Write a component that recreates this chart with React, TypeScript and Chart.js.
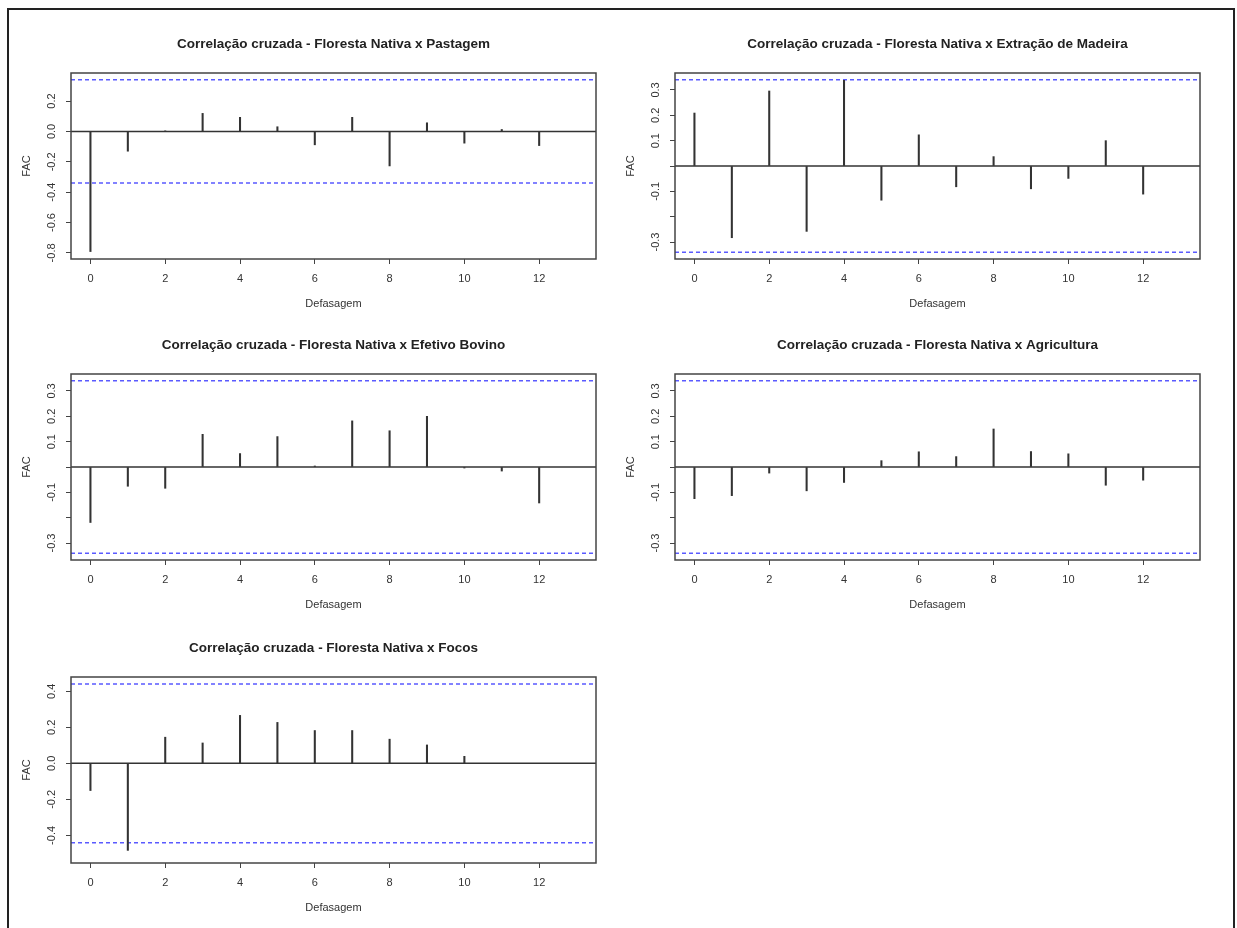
import React, { useEffect, useRef } from 'react';
import { Chart, registerables } from 'chart.js';

Chart.register(...registerables);

// ---------- data ----------
const lags = [0, 1, 2, 3, 4, 5, 6, 7, 8, 9, 10, 11, 12];
const lagsFocos = [0, 1, 2, 3, 4, 5, 6, 7, 8, 9, 10];

const pastagem = [-0.791, -0.13, 0.004, 0.119, 0.093, 0.031, -0.088, 0.093, -0.227, 0.057, -0.077, 0.013, -0.093];
const madeira = [0.209, -0.283, 0.296, -0.258, 0.338, -0.135, 0.123, -0.082, 0.037, -0.09, -0.049, 0.1, -0.111];
const bovino = [-0.219, -0.076, -0.084, 0.129, 0.053, 0.12, 0.004, 0.182, 0.143, 0.2, -0.004, -0.016, -0.142];
const agricultura = [-0.125, -0.113, -0.024, -0.094, -0.061, 0.025, 0.06, 0.041, 0.15, 0.061, 0.052, -0.072, -0.052];
const focos = [-0.151, -0.483, 0.145, 0.113, 0.266, 0.227, 0.182, 0.182, 0.134, 0.102, 0.039];

const titles = [
  'Correlação cruzada - Floresta Nativa x Pastagem',
  'Correlação cruzada - Floresta Nativa x Extração de Madeira',
  'Correlação cruzada - Floresta Nativa x Efetivo Bovino',
  'Correlação cruzada - Floresta Nativa x Agricultura',
  'Correlação cruzada - Floresta Nativa x Focos',
];

const xTicks = [0, 2, 4, 6, 8, 10, 12];
const xTickLabels = ['0', '2', '4', '6', '8', '10', '12'];
const xLimits = [-0.52, 13.52];

const yTicksA = [-0.8, -0.6, -0.4, -0.2, 0, 0.2];
const yTickLabelsA = ['-0.8', '-0.6', '-0.4', '-0.2', '0.0', '0.2'];
const yTicksB = [-0.3, -0.2, -0.1, 0, 0.1, 0.2, 0.3];
const yTickLabelsB = ['-0.3', '', '-0.1', '', '0.1', '0.2', '0.3'];
const yTicksC = [-0.4, -0.2, 0, 0.2, 0.4];
const yTickLabelsC = ['-0.4', '-0.2', '0.0', '0.2', '0.4'];

const yLimits1 = [-0.84, 0.385];
const yLimitsMid = [-0.367, 0.367];
const yLimits5 = [-0.553, 0.479];

const ciMain = 0.34;
const ciFocos = 0.44;

const xLabel = 'Defasagem';
const yLabel = 'FAC';

// ---------- layout ----------
const Y_W = 62;
const TITLE_H = 60;
const X_H = 56;
const PAD_R = 10;
const BOX_W = 525;
const BOX_H = 186;
const CW = Y_W + BOX_W + PAD_R;
const CH = TITLE_H + BOX_H + X_H;

const FAMILY = '"Liberation Sans", Arial, sans-serif';

type PanelDef = {
  title: string;
  lags: number[];
  values: number[];
  ci: number;
  yLim: number[];
  yTicks: number[];
  yTickLabels: string[];
  boxLeft: number;
  boxTop: number;
};

const panels: PanelDef[] = [
  { title: titles[0], lags, values: pastagem, ci: ciMain, yLim: yLimits1, yTicks: yTicksA, yTickLabels: yTickLabelsA, boxLeft: 71, boxTop: 73 },
  { title: titles[1], lags, values: madeira, ci: ciMain, yLim: yLimitsMid, yTicks: yTicksB, yTickLabels: yTickLabelsB, boxLeft: 675, boxTop: 73 },
  { title: titles[2], lags, values: bovino, ci: ciMain, yLim: yLimitsMid, yTicks: yTicksB, yTickLabels: yTickLabelsB, boxLeft: 71, boxTop: 374 },
  { title: titles[3], lags, values: agricultura, ci: ciMain, yLim: yLimitsMid, yTicks: yTicksB, yTickLabels: yTickLabelsB, boxLeft: 675, boxTop: 374 },
  { title: titles[4], lags: lagsFocos, values: focos, ci: ciFocos, yLim: yLimits5, yTicks: yTicksC, yTickLabels: yTickLabelsC, boxLeft: 71, boxTop: 677 },
];

const boxPlugin = {
  id: 'plotBox',
  afterDraw(chart: any) {
    const { ctx, chartArea } = chart;
    const { left, top, right, bottom } = chartArea;
    ctx.save();
    ctx.strokeStyle = '#444';
    ctx.lineWidth = 1.5;
    ctx.strokeRect(left, top, right - left, bottom - top);
    ctx.restore();
  },
};

function Panel({ def }: { def: PanelDef }) {
  const ref = useRef<HTMLCanvasElement | null>(null);

  useEffect(() => {
    if (!ref.current) return;
    const tickFont = { family: FAMILY, size: 11 };
    const labelFor = (v: number, ticks: number[], labels: string[]) => {
      const i = ticks.findIndex((t) => Math.abs(t - v) < 1e-9);
      return i >= 0 ? labels[i] : '';
    };
    const hline = (y: number) => [
      { x: xLimits[0], y },
      { x: xLimits[1], y },
    ];
    const chart = new Chart(ref.current, {
      type: 'bar',
      data: {
        datasets: [
          {
            type: 'bar',
            data: def.lags.map((l, i) => ({ x: l, y: def.values[i] })),
            backgroundColor: '#333',
            borderWidth: 0,
            barThickness: 1.4,
          } as any,
          {
            type: 'line',
            data: hline(0),
            borderColor: '#333',
            borderWidth: 1.5,
            pointRadius: 0,
          } as any,
          {
            type: 'line',
            data: hline(def.ci),
            borderColor: '#5a5aff',
            borderWidth: 1.5,
            borderDash: [4, 3],
            pointRadius: 0,
          } as any,
          {
            type: 'line',
            data: hline(-def.ci),
            borderColor: '#5a5aff',
            borderWidth: 1.5,
            borderDash: [4, 3],
            pointRadius: 0,
          } as any,
        ],
      },
      options: {
        animation: false,
        responsive: false,
        maintainAspectRatio: false,
        layout: { padding: { left: 0, right: PAD_R, top: 0, bottom: 0 } },
        plugins: {
          legend: { display: false },
          tooltip: { enabled: false },
          title: {
            display: true,
            text: def.title,
            fullSize: false,
            color: '#222',
            font: { family: FAMILY, size: 13.5, weight: 'bold' },
            padding: { top: 23.4, bottom: 20.4 },
          },
        },
        scales: {
          x: {
            type: 'linear',
            min: xLimits[0],
            max: xLimits[1],
            offset: false,
            afterBuildTicks: (s: any) => {
              s.ticks = xTicks.map((v) => ({ value: v }));
            },
            afterFit: (s: any) => {
              s.height = X_H;
            },
            grid: { drawOnChartArea: false, drawTicks: true, tickLength: 5, color: '#444', offset: false },
            border: { display: false },
            ticks: {
              font: tickFont,
              color: '#333',
              padding: 8,
              maxRotation: 0,
              minRotation: 0,
              autoSkip: false,
              callback: (v: any) => labelFor(Number(v), xTicks, xTickLabels),
            },
            title: {
              display: true,
              text: xLabel,
              color: '#333',
              font: tickFont,
              padding: { top: 0, bottom: 4.4 },
            },
          },
          y: {
            type: 'linear',
            min: def.yLim[0],
            max: def.yLim[1],
            afterBuildTicks: (s: any) => {
              s.ticks = def.yTicks.map((v) => ({ value: v }));
            },
            afterFit: (s: any) => {
              s.width = Y_W;
            },
            grid: { drawOnChartArea: false, drawTicks: true, tickLength: 5, color: '#444' },
            border: { display: false },
            ticks: {
              font: tickFont,
              color: '#333',
              padding: 5,
              minRotation: 90,
              maxRotation: 90,
              crossAlign: 'center',
              autoSkip: false,
              callback: (v: any) => labelFor(Number(v), def.yTicks, def.yTickLabels),
            },
            title: {
              display: true,
              text: yLabel,
              color: '#333',
              font: tickFont,
              padding: { top: 11.7, bottom: 0 },
            },
          },
        },
      } as any,
      plugins: [boxPlugin],
    });
    return () => chart.destroy();
  }, [def]);

  return (
    <canvas
      ref={ref}
      width={CW}
      height={CH}
      style={{
        position: 'absolute',
        left: def.boxLeft - Y_W,
        top: def.boxTop - TITLE_H,
        width: CW,
        height: CH,
      }}
    />
  );
}

export default function App() {
  return (
    <div
      style={{
        position: 'absolute',
        left: 0,
        top: 0,
        width: 1237,
        height: 928,
        overflow: 'hidden',
        background: '#fff',
      }}
    >
      <div
        style={{
          position: 'absolute',
          left: 7,
          top: 8,
          width: 1228,
          height: 940,
          boxSizing: 'border-box',
          border: '2px solid #222',
        }}
      />
      {panels.map((p, i) => (
        <Panel key={i} def={p} />
      ))}
    </div>
  );
}
